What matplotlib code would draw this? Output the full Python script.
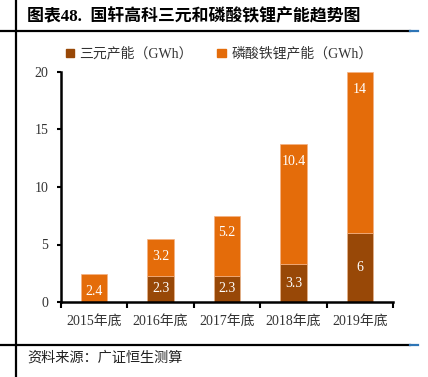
import matplotlib.pyplot as plt
from matplotlib.lines import Line2D
from matplotlib.patches import Patch
import numpy as np

# data
years = ['2015年底', '2016年底', '2017年底', '2018年底', '2019年底']
ternary = [0, 2.3, 2.3, 3.3, 6]
lfp = [2.4, 3.2, 5.2, 10.4, 14]
ternary_name = '三元产能（GWh）'
lfp_name = '磷酸铁锂产能（GWh）'

dark = '#984807'
orange = '#E46C0A'
fonts = ['Liberation Serif', 'Noto Sans CJK SC']
plt.rcParams['font.family'] = fonts

W, H = 428, 377
fig = plt.figure(figsize=(W / 100, H / 100), dpi=100)

# page decorations: left rule, title rule and source rule
fig.add_artist(Line2D([16 / W, 16 / W], [0, 1], color='black', lw=1.6))
fig.add_artist(Line2D([0, 410 / W], [1 - 31 / H] * 2, color='black', lw=1.6))
fig.add_artist(Line2D([410 / W, 418 / W], [1 - 31 / H] * 2, color='#2E75B6', lw=1.6))
fig.add_artist(Line2D([0, 410 / W], [1 - 345 / H] * 2, color='black', lw=1.6))
fig.add_artist(Line2D([410 / W, 418 / W], [1 - 345 / H] * 2, color='#2E75B6', lw=1.6))
fig.text(27 / W, 1 - 17 / H, '图表48.  国轩高科三元和磷酸铁锂产能趋势图',
         fontsize=12.2, fontweight='bold', va='center', ha='left')
fig.text(27 / W, 1 - 358 / H, '资料来源：广证恒生测算', fontsize=10.2,
         va='center', ha='left', color='#222222')

ax = fig.add_axes([61 / W, 1 - 302 / H, (393 - 61) / W, (302 - 72) / H])
x = np.arange(len(years))
ax.bar(x, ternary, width=0.4, color=dark, edgecolor='#E8B48A', linewidth=0.5)
ax.bar(x, lfp, width=0.4, bottom=ternary, color=orange, edgecolor='#F4B183', linewidth=0.5)

for i in range(len(years)):
    if ternary[i] > 0:
        ax.text(x[i], ternary[i] / 2, f'{ternary[i]:g}', ha='center', va='center',
                color='white', fontsize=10)
    top = ternary[i] + lfp[i]
    off = min(1.5, lfp[i] / 2 + 0.3)
    ax.text(x[i], top - off, f'{lfp[i]:g}', ha='center', va='center',
            color='white', fontsize=10)

ax.set_xlim(-0.5, len(years) - 0.5)
ax.set_ylim(0, 20)
ax.set_yticks([0, 5, 10, 15, 20])
ax.set_xticks(x)
ax.set_xticklabels(years)
ax.tick_params(axis='x', which='major', length=0, pad=9, labelsize=10, labelcolor='#333333')
ax.set_xticks(np.arange(-0.5, len(years)), minor=True)
ax.tick_params(axis='x', which='minor', length=4, width=1.5, color='black')
ax.tick_params(axis='y', length=3, width=1.5, pad=6, labelsize=10, labelcolor='#333333')
for s in ['top', 'right']:
    ax.spines[s].set_visible(False)
for s in ['left', 'bottom']:
    ax.spines[s].set_linewidth(1.8)

handles = [Patch(color=dark), Patch(color=orange)]
fig.legend(handles, [ternary_name, lfp_name], ncol=2, frameon=False,
           loc='center left', bbox_to_anchor=(53 / W, 1 - 54 / H), fontsize=10,
           handlelength=0.6, handleheight=0.6, handletextpad=0.4, columnspacing=1.75,
           labelcolor='#333333')

fig.savefig('out.png', dpi=100)
